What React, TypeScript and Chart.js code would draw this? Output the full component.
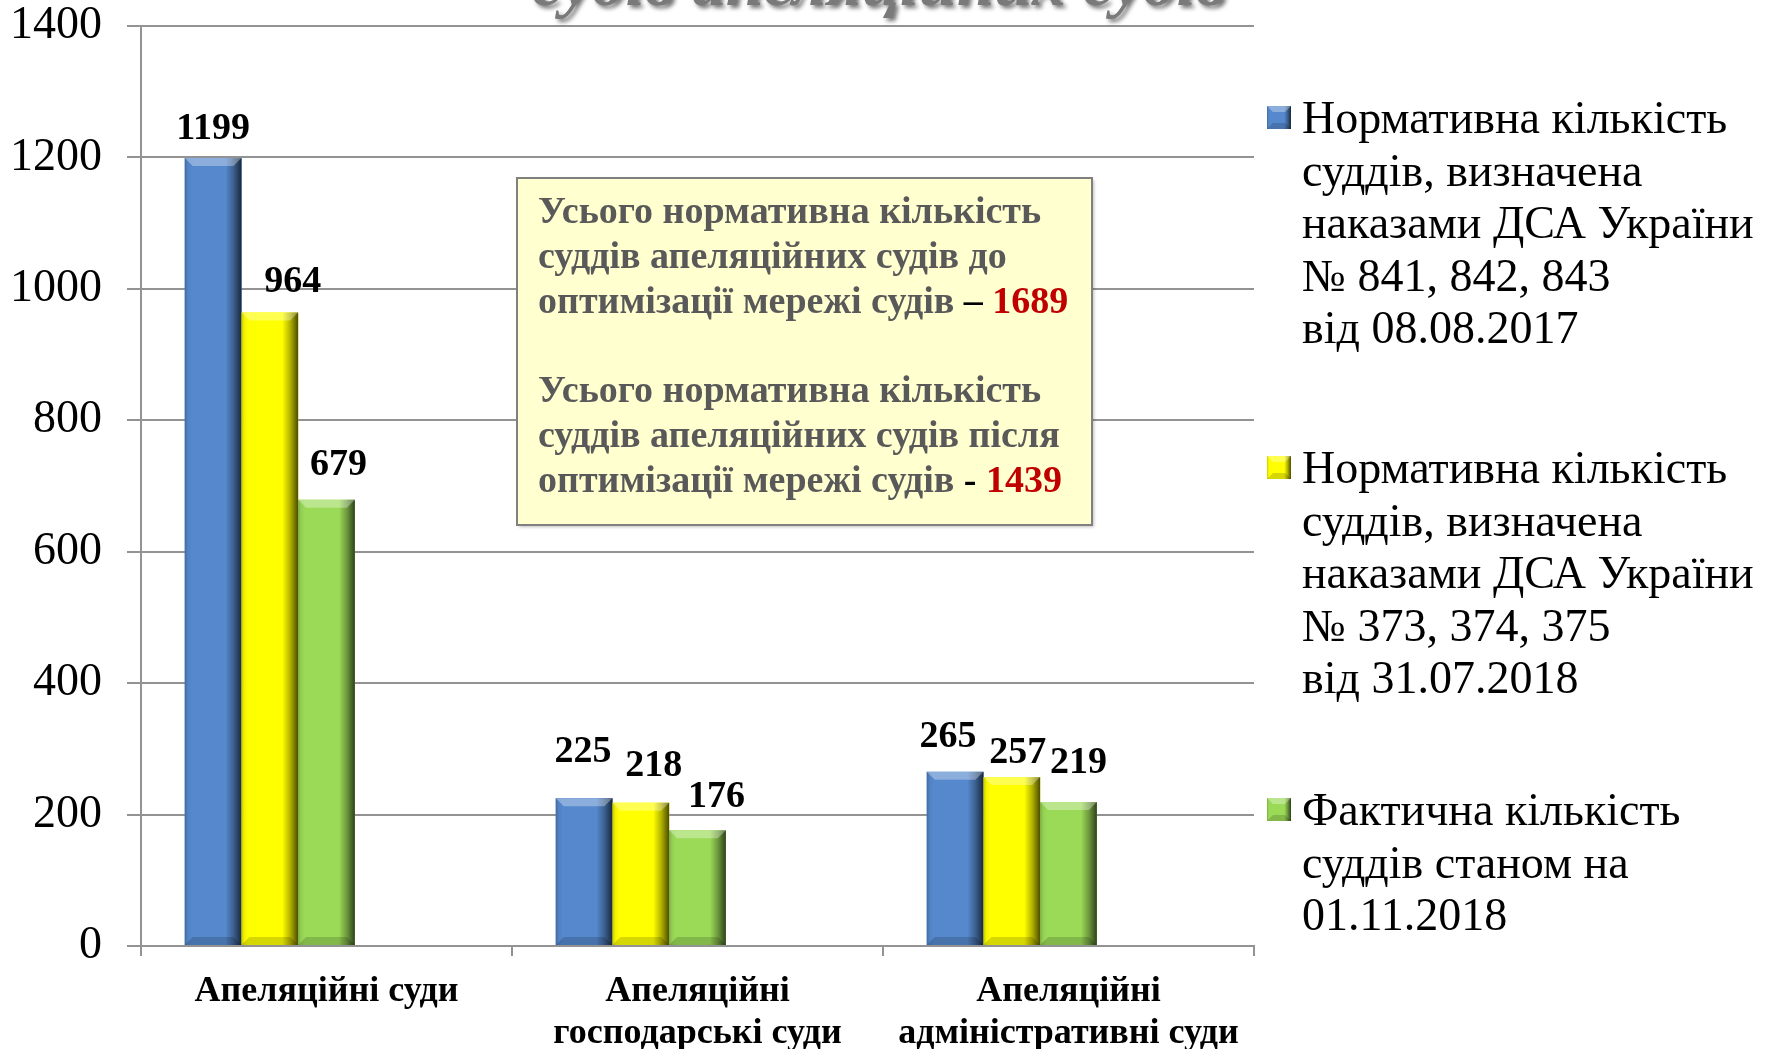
import React, { useEffect, useRef } from "react";
import { Chart, registerables } from "chart.js";

Chart.register(...registerables);

// ---------- data ----------
const categories: (string | string[])[] = [
  "Апеляційні суди",
  ["Апеляційні", "господарські суди"],
  ["Апеляційні", "адміністративні суди"],
];
const normative2017 = [1199, 225, 265];
const normative2018 = [964, 218, 257];
const actual2018 = [679, 176, 219];
const yTickValues = [0, 200, 400, 600, 800, 1000, 1200, 1400];

const legendTexts: string[][] = [
  ["Нормативна кількість", "суддів, визначена", "наказами ДСА України", "№ 841, 842, 843", "від 08.08.2017"],
  ["Нормативна кількість", "суддів, визначена", "наказами ДСА України", "№ 373, 374, 375", "від 31.07.2018"],
  ["Фактична кількість", "суддів станом на", "01.11.2018"],
];
const totalBefore = "1689";
const totalAfter = "1439";
const titleText = "судів апеляційних судів";

// ---------- styles ----------
const FONT = '"Liberation Serif", "Times New Roman", serif';
const barColors = ["#5588CC", "#FFFF00", "#9BDA57"];
const gridColor = "#939393";

// label nudges (dx, gap above bar top) per series / category — like manual Excel label placement
const labelNudge = [
  [[0, 19], [-1, 36], [-7, 25]],
  [[23, 21], [13, 27], [6, 14]],
  [[12, 25], [19, 23], [10, 29]],
];

function poly(ctx: CanvasRenderingContext2D, pts: number[][], fill: string | CanvasGradient) {
  ctx.beginPath();
  ctx.moveTo(pts[0][0], pts[0][1]);
  for (let i = 1; i < pts.length; i++) ctx.lineTo(pts[i][0], pts[i][1]);
  ctx.closePath();
  ctx.fillStyle = fill;
  ctx.fill();
}

function drawBevel(ctx: CanvasRenderingContext2D, l: number, t: number, w: number, h: number, base: string) {
  const r = l + w;
  const b = t + h;
  const bv = Math.min(8, w / 4, h / 2);
  ctx.save();
  ctx.fillStyle = base;
  ctx.fillRect(l, t, w, h);
  const g = ctx.createLinearGradient(l, 0, r, 0);
  g.addColorStop(0, "rgba(0,0,0,0.22)");
  g.addColorStop(0.05, "rgba(0,0,0,0.05)");
  g.addColorStop(0.12, "rgba(0,0,0,0)");
  g.addColorStop(0.72, "rgba(0,0,0,0)");
  g.addColorStop(0.86, "rgba(0,0,0,0.3)");
  g.addColorStop(1, "rgba(0,0,0,0.7)");
  ctx.fillStyle = g;
  ctx.fillRect(l, t, w, h);
  poly(ctx, [[l, t], [r, t], [r - bv, t + bv], [l + bv, t + bv]], "rgba(255,255,255,0.32)");
  poly(ctx, [[l, b], [r, b], [r - bv, b - bv], [l + bv, b - bv]], "rgba(0,0,0,0.16)");
  ctx.restore();
}

const bevelPlugin = {
  id: "bevelBars",
  afterDatasetsDraw(chart: any) {
    const ctx: CanvasRenderingContext2D = chart.ctx;
    for (let di = 0; di < 3; di++) {
      const meta = chart.getDatasetMeta(di);
      meta.data.forEach((el: any) => {
        const p = el.getProps(["x", "y", "base", "width"], true);
        if (p.y == null || isNaN(p.y)) return;
        drawBevel(ctx, p.x - p.width / 2, p.y, p.width, p.base - p.y, barColors[di]);
      });
    }
    // value labels
    ctx.save();
    ctx.font = `bold 38px ${FONT}`;
    ctx.fillStyle = "#000";
    ctx.textAlign = "center";
    ctx.textBaseline = "alphabetic";
    for (let di = 0; di < 3; di++) {
      const meta = chart.getDatasetMeta(di);
      const ds = chart.data.datasets[di];
      meta.data.forEach((el: any, i: number) => {
        const p = el.getProps(["x", "y"], true);
        const [dx, gap] = labelNudge[di][i];
        ctx.fillText(String(ds.data[i]), p.x + dx, p.y - gap);
      });
    }
    ctx.restore();
  },
};

const overlayPlugin = {
  id: "overlay",
  afterDraw(chart: any) {
    const ctx: CanvasRenderingContext2D = chart.ctx;
    // clipped title at top
    ctx.save();
    ctx.font = `italic bold 68px ${FONT}`;
    ctx.textAlign = "left";
    ctx.textBaseline = "alphabetic";
    ctx.shadowColor = "rgba(0,0,0,0.55)";
    ctx.shadowOffsetX = 3;
    ctx.shadowOffsetY = 3;
    ctx.shadowBlur = 4;
    ctx.fillStyle = "#7a7a7a";
    ctx.fillText(titleText, 532, 5);
    ctx.restore();

    // annotation box
    ctx.save();
    const bx = 517, by = 178, bw = 575, bh = 347;
    ctx.shadowColor = "rgba(0,0,0,0.25)";
    ctx.shadowOffsetX = 2;
    ctx.shadowOffsetY = 2;
    ctx.shadowBlur = 3;
    ctx.fillStyle = "#FFFFD0";
    ctx.fillRect(bx, by, bw, bh);
    ctx.shadowColor = "transparent";
    ctx.strokeStyle = "#808080";
    ctx.lineWidth = 2;
    ctx.strokeRect(bx, by, bw, bh);
    const grey = "#595959";
    const red = "#C00000";
    const lines: [string, string][][] = [
      [["Усього нормативна кількість", grey]],
      [["суддів апеляційних судів до", grey]],
      [["оптимізації мережі судів ", grey], ["– ", "#000"], [totalBefore, red]],
      [],
      [["Усього нормативна кількість", grey]],
      [["суддів апеляційних судів після", grey]],
      [["оптимізації мережі судів ", grey], ["- ", "#000"], [totalAfter, red]],
    ];
    ctx.font = `bold 38px ${FONT}`;
    ctx.textAlign = "left";
    ctx.textBaseline = "alphabetic";
    lines.forEach((runs, li) => {
      let x = 538;
      const y = 223 + li * 44.8;
      runs.forEach(([t, c]) => {
        ctx.fillStyle = c;
        ctx.fillText(t, x, y);
        x += ctx.measureText(t).width;
      });
    });
    ctx.restore();

    // legend
    ctx.save();
    const firstBaselines = [133, 483, 825];
    ctx.font = `46px ${FONT}`;
    ctx.fillStyle = "#000";
    ctx.textAlign = "left";
    ctx.textBaseline = "alphabetic";
    legendTexts.forEach((ls, i) => {
      const y0 = firstBaselines[i];
      drawBevel(ctx, 1267, y0 - 27, 24, 23, barColors[i]);
      ls.forEach((t, k) => {
        ctx.fillStyle = "#000";
        ctx.fillText(t, 1302, y0 + k * 52.5);
      });
    });
    ctx.restore();
  },
};

export default function App() {
  const ref = useRef<HTMLCanvasElement | null>(null);
  useEffect(() => {
    if (!ref.current) return;
    const chart = new Chart(ref.current, {
      type: "bar",
      data: {
        labels: categories as any,
        datasets: [
          { label: legendTexts[0].join(" "), data: normative2017, backgroundColor: barColors[0] },
          { label: legendTexts[1].join(" "), data: normative2018, backgroundColor: barColors[1] },
          { label: legendTexts[2].join(" "), data: actual2018, backgroundColor: barColors[2] },
          { label: "", data: [null, null, null], backgroundColor: "transparent" },
          { label: "", data: [null, null, null], backgroundColor: "transparent" },
        ],
      },
      options: {
        animation: false,
        responsive: true,
        maintainAspectRatio: false,
        events: [],
        layout: { padding: { left: 0, right: 1775 - 1254, top: 26, bottom: 0 } },
        datasets: { bar: { categoryPercentage: 0.764, barPercentage: 1, borderWidth: 0 } },
        plugins: { legend: { display: false }, tooltip: { enabled: false }, title: { display: false } },
        scales: {
          x: {
            offset: true,
            grid: { display: true, drawOnChartArea: false, drawTicks: true, tickLength: 10, color: gridColor, lineWidth: 2, offset: true },
            border: { display: true, color: gridColor, width: 2 },
            ticks: {
              color: "#000",
              font: { family: FONT, size: 36, weight: "bold", lineHeight: "42px" as any },
              padding: 15,
              maxRotation: 0,
              autoSkip: false,
            },
            afterFit: (s: any) => {
              s.height = 103;
              s.paddingLeft = 0;
              s.paddingRight = 0;
            },
          },
          y: {
            min: 0,
            max: 1400,
            afterBuildTicks: (s: any) => {
              s.ticks = yTickValues.map((v) => ({ value: v }));
            },
            grid: { color: gridColor, lineWidth: 2, tickLength: 14, drawTicks: true },
            border: { display: true, color: gridColor, width: 2 },
            ticks: {
              color: "#000",
              font: { family: FONT, size: 46, lineHeight: 1 },
              padding: 25,
              callback: (v: any) => String(v),
            },
            afterFit: (s: any) => {
              s.width = 141;
              s.paddingTop = 0;
              s.paddingBottom = 0;
            },
          },
        },
      },
      plugins: [bevelPlugin, overlayPlugin],
    });
    return () => chart.destroy();
  }, []);
  return (
    <div style={{ position: "fixed", left: 0, top: 0, width: 1775, height: 1049, background: "#fff" }}>
      <canvas ref={ref} />
    </div>
  );
}
